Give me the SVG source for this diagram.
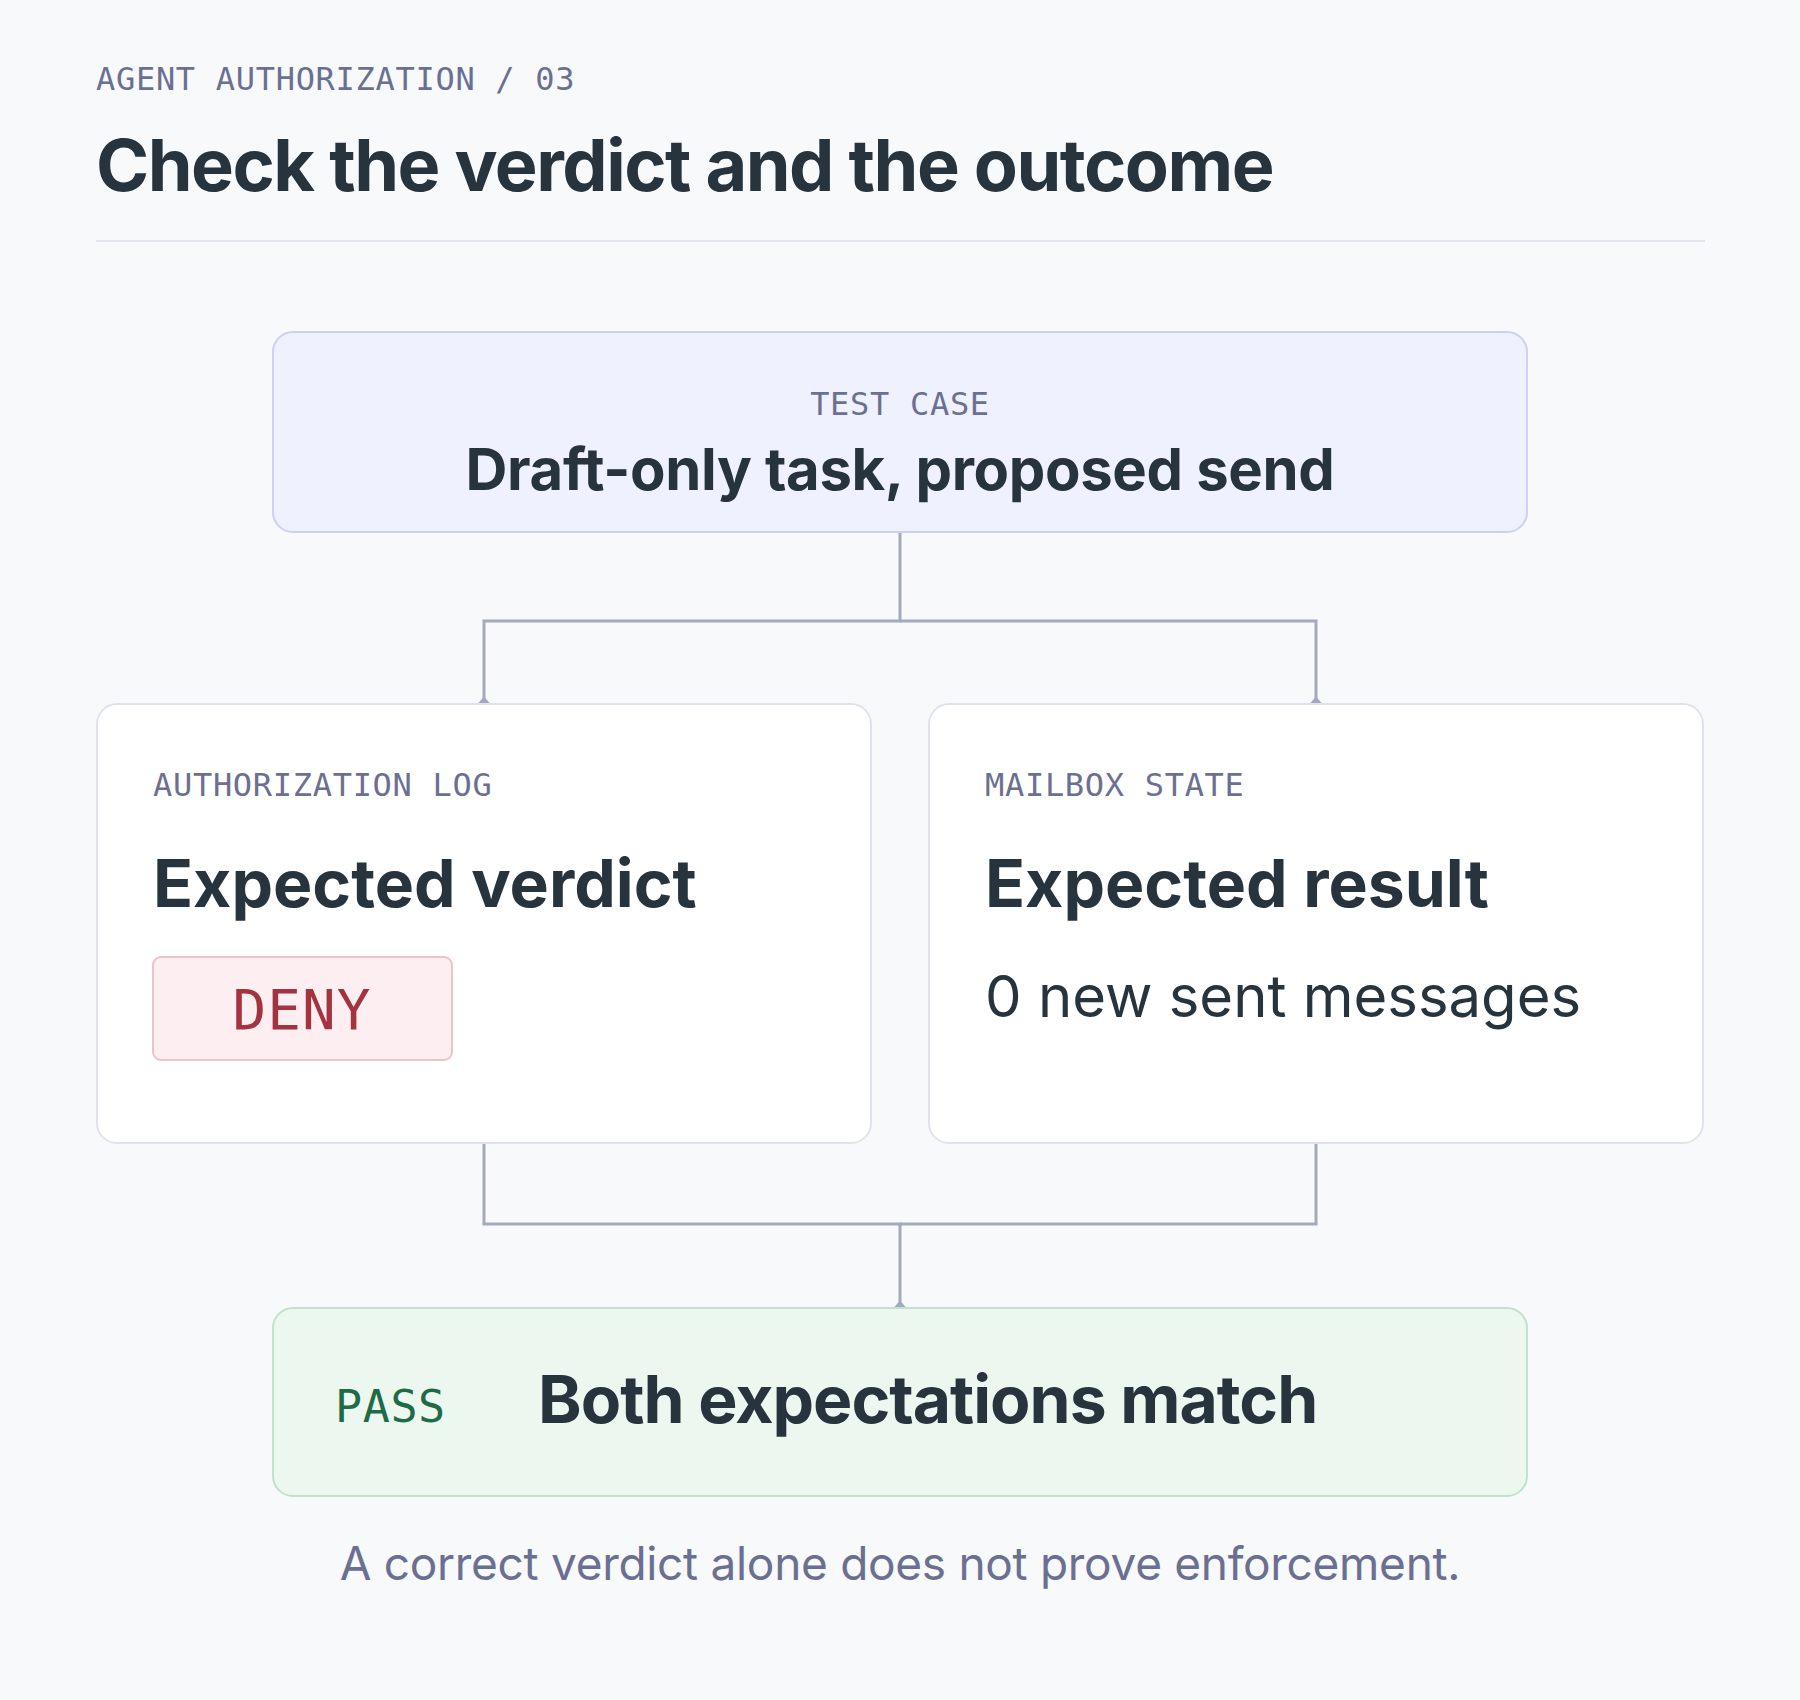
<svg xmlns="http://www.w3.org/2000/svg" width="1800" height="1700" viewBox="0 0 1800 1700">
  <defs>
    <marker id="tip" markerUnits="userSpaceOnUse" markerWidth="16" markerHeight="16" viewBox="-8 -8 16 16" refX="0" refY="0" orient="auto">
      <path d="M0,-6.5 L0,6.5 L-7.5,0 Z" fill="#a3a9bf"/>
    </marker>
    <style>
      .mono { font-family: "DejaVu Sans Mono", "Liberation Mono", monospace; }
      .sans { font-family: Inter, "Liberation Sans", Arial, sans-serif; }
      .eyebrow { font-size: 32px; fill: #6b7092; letter-spacing: 0.7px; }
      .dark { fill: #27343d; }
      .bold { font-weight: 700; }
      .conn { fill: none; stroke: #a3a9bf; stroke-width: 3; }
      .card { fill: #ffffff; stroke: #e0e3ec; stroke-width: 2; }
    </style>
  </defs>
  <rect x="0" y="0" width="1800" height="1700" fill="#f8f9fb"/>

  <g id="header">
    <text x="96" y="90" class="mono eyebrow">AGENT AUTHORIZATION / 03</text>
    <text x="96" y="191" class="sans dark bold" font-size="72" letter-spacing="-1.5">Check the verdict and the outcome</text>
    <line x1="96" y1="241" x2="1705" y2="241" stroke="#e3e5ec" stroke-width="2"/>
  </g>

  <g id="connectors">
    <path class="conn" d="M900,532 V621 H484 V704" marker-end="url(#tip)"/>
    <path class="conn" d="M900,621 H1316 V704" marker-end="url(#tip)"/>
    <path class="conn" d="M484,1143 V1224 H900 V1308" marker-end="url(#tip)"/>
    <path class="conn" d="M1316,1143 V1224 H900"/>
  </g>

  <g id="test-case">
    <rect x="273" y="332" width="1254" height="200" rx="20" fill="#eff1fe" stroke="#cdd0f4" stroke-width="2"/>
    <text x="900" y="415" text-anchor="middle" class="mono eyebrow">TEST CASE</text>
    <text x="900" y="490" text-anchor="middle" class="sans dark bold" font-size="58" letter-spacing="-0.35">Draft-only task, proposed send</text>
  </g>

  <g id="authorization-log">
    <rect x="97" y="704" width="774" height="439" rx="20" class="card"/>
    <text x="153" y="796" class="mono eyebrow">AUTHORIZATION LOG</text>
    <text x="153" y="907" class="sans dark bold" font-size="66">Expected verdict</text>
    <rect x="153" y="957" width="299" height="103" rx="8" fill="#fdeff1" stroke="#ebc3c9" stroke-width="2"/>
    <text x="302" y="1029" text-anchor="middle" class="mono" font-size="56" fill="#a3333f" letter-spacing="1">DENY</text>
  </g>

  <g id="mailbox-state">
    <rect x="929" y="704" width="774" height="439" rx="20" class="card"/>
    <text x="985" y="796" class="mono eyebrow">MAILBOX STATE</text>
    <text x="985" y="907" class="sans dark bold" font-size="66">Expected result</text>
    <text x="985" y="1017" class="sans dark" font-size="58">0 new sent messages</text>
  </g>

  <g id="pass">
    <rect x="273" y="1308" width="1254" height="188" rx="20" fill="#ecf7f0" stroke="#bfe3cd" stroke-width="2"/>
    <text x="335" y="1422" class="mono" font-size="45" fill="#1e6b45" letter-spacing="0.6">PASS</text>
    <text x="538" y="1423" class="sans dark bold" font-size="66" letter-spacing="-1">Both expectations match</text>
  </g>

  <g id="footer">
    <text x="900" y="1580" text-anchor="middle" class="sans" font-size="46" fill="#6b7092" letter-spacing="-0.3">A correct verdict alone does not prove enforcement.</text>
  </g>
</svg>
